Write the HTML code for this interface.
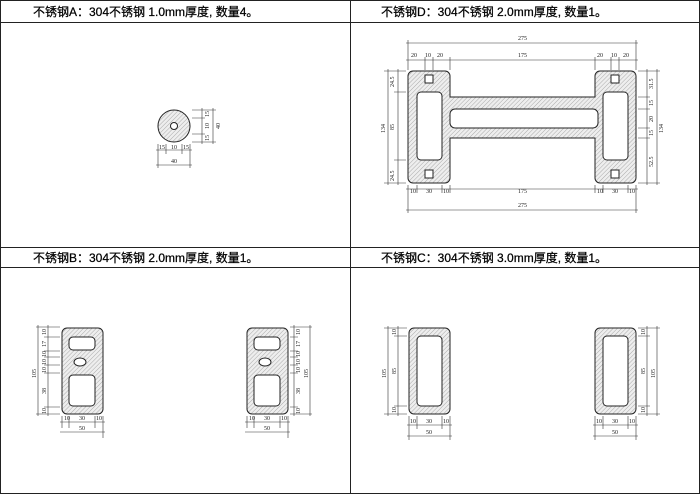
<!DOCTYPE html>
<html><head><meta charset="utf-8"><style>
html,body{margin:0;padding:0;background:#fff}
svg{display:block}
.t{font-family:"Liberation Sans","Noto Sans CJK SC",sans-serif;font-size:12px;fill:#000;stroke:#000;stroke-width:0.25}
.d{font-family:"Liberation Serif",serif;font-size:6px;fill:#222}
.l{stroke:#333;stroke-width:0.6;fill:none}
.s{stroke:#222;stroke-width:1;fill:url(#h)}
.w{stroke:#222;stroke-width:1;fill:#fff}
</style></head><body>
<svg width="700" height="494" viewBox="0 0 700 494" xmlns="http://www.w3.org/2000/svg">
<defs>
<pattern id="h" width="3" height="3" patternUnits="userSpaceOnUse" patternTransform="rotate(45)">
<rect width="3" height="3" fill="#eee"/><line x1="0" y1="0" x2="0" y2="3" stroke="#999" stroke-width="0.8"/>
</pattern>
<g id="B">
<rect class="s" x="62" y="328" width="41" height="86" rx="5"/>
<rect class="w" x="69" y="337" width="26" height="13" rx="4"/>
<ellipse class="w" cx="80" cy="362" rx="6" ry="4"/>
<rect class="w" x="69" y="375" width="26" height="31" rx="4"/>
<path class="l" d="M62 416V428 M69 416V428 M95 416V428 M103 416V438 M60 422H105 M60 432H105"/>
<text class="d" x="64" y="420">10</text><text class="d" x="79" y="420">30</text><text class="d" x="96" y="420">10</text><text class="d" x="79" y="430">50</text>
</g>
<g id="C">
<rect class="s" x="409" y="328" width="41" height="86" rx="5"/>
<rect class="w" x="417" y="336" width="25" height="70" rx="4"/>
<path class="l" d="M409 416V440 M417 416V429 M442 416V429 M450 416V440 M407 425H452 M407 436H452"/>
<text class="d" x="410" y="423">10</text><text class="d" x="426" y="423">30</text><text class="d" x="443" y="423">10</text><text class="d" x="426" y="434">50</text>
</g>
</defs>
<rect x="0.5" y="0.5" width="699" height="493" fill="none" stroke="#222" stroke-width="1"/>
<line x1="0" y1="22.5" x2="700" y2="22.5" stroke="#222" stroke-width="1"/>
<line x1="0" y1="247.5" x2="700" y2="247.5" stroke="#222" stroke-width="1"/>
<line x1="0" y1="267.5" x2="700" y2="267.5" stroke="#222" stroke-width="1"/>
<line x1="350.5" y1="0" x2="350.5" y2="494" stroke="#222" stroke-width="1"/>
<text class="t" x="33" y="16">不锈钢A：304不锈钢 1.0mm厚度, 数量4。</text>
<text class="t" x="381" y="16">不锈钢D：304不锈钢 2.0mm厚度, 数量1。</text>
<text class="t" x="33" y="262">不锈钢B：304不锈钢 2.0mm厚度, 数量1。</text>
<text class="t" x="381" y="262">不锈钢C：304不锈钢 3.0mm厚度, 数量1。</text>

<!-- A -->
<circle cx="174" cy="126" r="16" class="s"/>
<circle cx="174" cy="126" r="3.5" class="w"/>
<path class="l" d="M158 144V168 M166 144V154 M182 144V154 M190 144V168 M156 150H192 M156 165H192 M192 110H216 M192 142H216 M192 118H205 M192 134H205 M202 108V144 M213 108V144"/>
<text class="d" x="159" y="149">15</text><text class="d" x="171" y="149">10</text><text class="d" x="183" y="149">15</text><text class="d" x="171" y="163">40</text>
<g class="d"><text transform="translate(209,117) rotate(-90)">15</text><text transform="translate(209,129) rotate(-90)">10</text><text transform="translate(209,141) rotate(-90)">15</text><text transform="translate(220,129) rotate(-90)">40</text></g>

<!-- D -->
<path class="s" d="M413 71H445a5 5 0 0 1 5 5V97H595V76a5 5 0 0 1 5-5H631a5 5 0 0 1 5 5V178a5 5 0 0 1-5 5H600a5 5 0 0 1-5-5V138H450V178a5 5 0 0 1-5 5H413a5 5 0 0 1-5-5V76a5 5 0 0 1 5-5Z"/>
<rect class="w" x="417" y="92" width="25" height="68" rx="4"/>
<rect class="w" x="603" y="92" width="25" height="68" rx="4"/>
<rect class="w" x="450" y="109" width="148" height="19" rx="5"/>
<rect class="w" x="425" y="75" width="8" height="8"/><rect class="w" x="425" y="170" width="8" height="8"/>
<rect class="w" x="611" y="75" width="8" height="8"/><rect class="w" x="611" y="170" width="8" height="8"/>
<path class="l" d="M406 43H638 M406 60H638 M408 40V70 M636 40V70 M425 57V70 M433 57V70 M450 57V70 M595 57V70 M611 57V70 M619 57V70
M406 189H638 M406 210H638 M408 185V213 M417 185V193 M442 185V193 M450 185V193 M595 185V193 M603 185V193 M628 185V193 M636 185V213
M384 71H406 M384 183H406 M388 69V185 M398 69V185 M394 92H406 M394 160H406
M638 71H660 M638 183H660 M657 69V185 M647 69V185 M638 97H650 M638 109H650 M638 128H650 M638 138H650"/>
<g class="d"><text x="518" y="40">275</text><text x="411" y="57">20</text><text x="425" y="57">10</text><text x="437" y="57">20</text><text x="518" y="57">175</text><text x="597" y="57">20</text><text x="611" y="57">10</text><text x="623" y="57">20</text>
<text x="410" y="193">10</text><text x="426" y="193">30</text><text x="443" y="193">10</text><text x="518" y="193">175</text><text x="597" y="193">10</text><text x="612" y="193">30</text><text x="629" y="193">10</text><text x="518" y="207">275</text>
<text transform="translate(394,87) rotate(-90)">24.5</text><text transform="translate(394,130) rotate(-90)">85</text><text transform="translate(394,181) rotate(-90)">24.5</text><text transform="translate(385,133) rotate(-90)">134</text>
<text transform="translate(653,89) rotate(-90)">31.5</text><text transform="translate(653,106) rotate(-90)">15</text><text transform="translate(653,122) rotate(-90)">20</text><text transform="translate(653,136) rotate(-90)">15</text><text transform="translate(653,167) rotate(-90)">52.5</text><text transform="translate(663,133) rotate(-90)">134</text></g>

<!-- B -->
<use href="#B"/>
<use href="#B" x="185"/>
<path class="l" d="M36 327H60 M36 414H60 M38 325V416 M48 325V416 M44 337H60 M44 351H60 M44 357H60 M44 365H60 M44 373H60 M44 407H60"/>
<g class="d"><text transform="translate(46,335) rotate(-90)">10</text><text transform="translate(46,347) rotate(-90)">17</text><text transform="translate(46,357) rotate(-90)">10</text><text transform="translate(46,365) rotate(-90)">10</text><text transform="translate(46,373) rotate(-90)">10</text><text transform="translate(46,394) rotate(-90)">38</text><text transform="translate(46,414) rotate(-90)">10</text><text transform="translate(36,378) rotate(-90)">105</text></g>
<path class="l" d="M290 327H312 M290 414H312 M310 325V416 M294 325V416 M290 337H298 M290 351H298 M290 357H298 M290 365H298 M290 373H298 M290 407H298"/>
<g class="d"><text transform="translate(300,335) rotate(-90)">10</text><text transform="translate(300,347) rotate(-90)">17</text><text transform="translate(300,357) rotate(-90)">10</text><text transform="translate(300,365) rotate(-90)">10</text><text transform="translate(300,373) rotate(-90)">10</text><text transform="translate(300,394) rotate(-90)">38</text><text transform="translate(300,414) rotate(-90)">10</text><text transform="translate(308,378) rotate(-90)">105</text></g>

<!-- C -->
<use href="#C"/>
<use href="#C" x="186"/>
<path class="l" d="M384 328H407 M384 414H407 M388 326V416 M398 326V416 M394 336H407 M394 406H407"/>
<g class="d"><text transform="translate(396,335) rotate(-90)">10</text><text transform="translate(396,374) rotate(-90)">85</text><text transform="translate(396,413) rotate(-90)">10</text><text transform="translate(386,378) rotate(-90)">105</text></g>
<path class="l" d="M638 328H660 M638 414H660 M657 326V416 M647 326V416 M638 336H650 M638 406H650"/>
<g class="d"><text transform="translate(645,335) rotate(-90)">10</text><text transform="translate(645,374) rotate(-90)">85</text><text transform="translate(645,413) rotate(-90)">10</text><text transform="translate(655,378) rotate(-90)">105</text></g>
</svg>
</body></html>
